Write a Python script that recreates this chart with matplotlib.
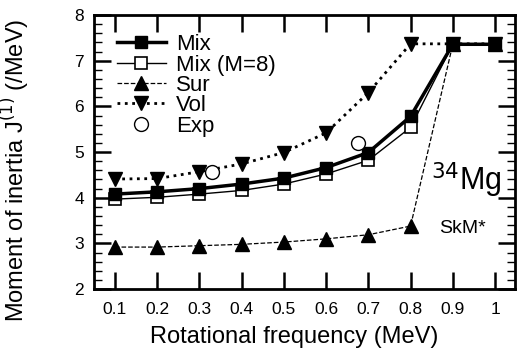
import numpy as np
import matplotlib
matplotlib.use('Agg')
import matplotlib.pyplot as plt
from matplotlib.ticker import MultipleLocator

plt.rcParams['font.family'] = ['Liberation Sans', 'DejaVu Sans']

omega = [0.1, 0.2, 0.3, 0.4, 0.5, 0.6, 0.7, 0.8, 0.9, 1.0]
mix = [4.08, 4.13, 4.20, 4.30, 4.43, 4.66, 4.99, 5.78, 7.36, 7.36]
mix_m8 = [3.97, 4.01, 4.08, 4.16, 4.30, 4.52, 4.82, 5.54, 7.36, 7.36]
sur = [2.92, 2.92, 2.95, 2.98, 3.03, 3.10, 3.19, 3.38, 7.36, 7.36]
vol = [4.41, 4.42, 4.57, 4.74, 4.99, 5.42, 6.30, 7.37, 7.37, 7.37]
exp_omega = [0.329, 0.675]
exp_j = [4.57, 5.19]

fig = plt.figure(figsize=(5.18, 3.5), dpi=100)
ax = fig.add_axes([0.181, 0.174, 0.813, 0.783])

ax.plot(omega, vol, ':', color='black', lw=2, marker='v', ms=10,
        mfc='black', mec='black', label='Vol', zorder=2)
ax.plot(omega, sur, '--', color='black', lw=0.9, marker='^', ms=10,
        mfc='black', mec='black', label='Sur', zorder=2)
ax.plot(omega, mix_m8, '-', color='black', lw=1.0, marker='s', ms=9,
        mfc='white', mec='black', mew=1.2, label='Mix (M=8)', zorder=3)
ax.plot(omega, mix, '-', color='black', lw=2.5, marker='s', ms=9,
        mfc='black', mec='black', label='Mix', zorder=4)
ax.plot(exp_omega, exp_j, 'o', ms=10, mfc='white', mec='black', mew=1.0,
        label='Exp', zorder=5)

ax.set_xlim(0.05, 1.047)
ax.set_ylim(2, 8)
ax.set_xticks(omega)
ax.set_xticklabels(['0.1', '0.2', '0.3', '0.4', '0.5', '0.6', '0.7', '0.8', '0.9', '1'])
ax.yaxis.set_major_locator(MultipleLocator(1))
ax.yaxis.set_minor_locator(MultipleLocator(0.2))
ax.tick_params(which='both', direction='in', top=True, right=True, labelsize=12.5, width=1.8)
ax.tick_params(axis='x', which='major', length=12, pad=9)
ax.tick_params(axis='y', which='major', length=12, pad=7)
ax.tick_params(which='minor', length=6, width=1)
for s in ax.spines.values():
    s.set_linewidth(2)

ax.set_xlabel('Rotational frequency (MeV)', fontsize=17)
ax.set_ylabel('Moment of inertia J$^{(1)}$ (/MeV)', fontsize=17)
ax.xaxis.set_label_coords(0.475, -0.135)
ax.yaxis.set_label_coords(-0.146, 0.434)

handles, labels = ax.get_legend_handles_labels()
order = [3, 2, 1, 0, 4]
ax.legend([handles[i] for i in order], [labels[i] for i in order],
          loc='upper left', frameon=False, fontsize=16, handlelength=2.2,
          labelspacing=-0.03, handletextpad=0.45, borderaxespad=0.0,
          borderpad=0.0, bbox_to_anchor=(0.055, 0.93))

ax.text(0.80, 0.36, '$^{34}$Mg', transform=ax.transAxes, fontsize=22)
ax.text(0.82, 0.205, 'SkM*', transform=ax.transAxes, fontsize=14)

fig.savefig('out.png', dpi=100)
